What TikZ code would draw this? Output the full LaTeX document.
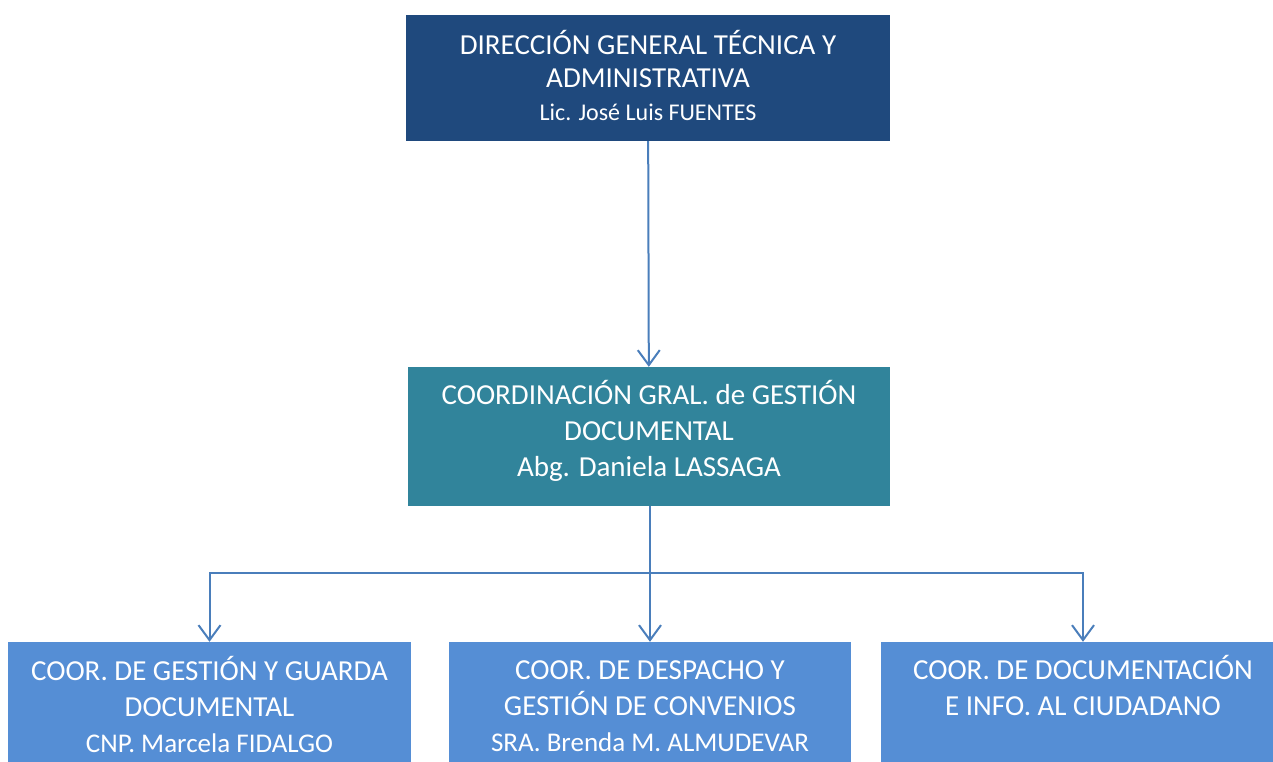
\documentclass[tikz,border=0pt]{standalone}
\usepackage{fontspec}
\setmainfont{Carlito}
\usetikzlibrary{arrows.meta}
\definecolor{topblue}{RGB}{31,73,125}
\definecolor{teal}{RGB}{49,132,155}
\definecolor{unitblue}{RGB}{85,142,213}
\definecolor{linkblue}{RGB}{74,126,187}
\begin{document}
\begin{tikzpicture}[x=1pt, y=-1pt,
    box/.style={rectangle, inner sep=0pt},
    boxtext/.style={inner sep=0pt, align=center, text=white, font=\fontsize{29}{36}\selectfont},
    link/.style={draw=linkblue, line width=2pt, -{Straight Barb[length=15pt, width=22pt]}}]
        \useasboundingbox (0,0) rectangle (1273,761);
        \clip (0,0) rectangle (1273,761);

        % boxes
        \node[box, fill=topblue, minimum width=484pt, minimum height=126pt] at (648, 78)     (dir)       {};
        \node[box, fill=teal, minimum width=482pt, minimum height=139pt]    at (649, 436.5)  (coord)     {};
        \node[box, fill=unitblue, minimum width=403pt, minimum height=128pt] at (209.5, 706) (guarda)    {};
        \node[box, fill=unitblue, minimum width=402pt, minimum height=128pt] at (650, 706)   (despacho)  {};
        \node[box, fill=unitblue, minimum width=404pt, minimum height=128pt] at (1083, 706)  (ciudadano) {};

        % texts
        \node[boxtext, font=\fontsize{29}{33}\selectfont, yshift=2.5pt] at (dir) (dirtext)
            {DIRECCIÓN GENERAL TÉCNICA Y\\ADMINISTRATIVA\\\fontsize{24}{33}\selectfont Lic. José Luis FUENTES};
        \node[boxtext, yshift=6pt] at (coord) (coordtext)
            {COORDINACIÓN GRAL. de GESTIÓN\\DOCUMENTAL\\Abg. Daniela LASSAGA};
        \node[boxtext, yshift=2pt] at (guarda) (guardatext)
            {COOR. DE GESTIÓN Y GUARDA\\DOCUMENTAL\\\fontsize{27}{36}\selectfont CNP. Marcela FIDALGO};
        \node[boxtext, yshift=-0.5pt] at (despacho) (despachotext)
            {COOR. DE DESPACHO Y\\GESTIÓN DE CONVENIOS\\\fontsize{27}{36}\selectfont SRA. Brenda M. ALMUDEVAR};
        \node[boxtext, yshift=21pt] at (ciudadano) (ciudadanotext)
            {COOR. DE DOCUMENTACIÓN\\E INFO. AL CIUDADANO};

        % bus line
        \coordinate (bus) at (650, 573);

        \draw[link]  (dir) -- (coord);
        \draw[link]  (coord.south -| bus) -- (bus) -| (guarda.north);
        \draw[link]  (coord.south -| bus) -- (despacho.north);
        \draw[link]  (bus) -| (ciudadano.north);

    \end{tikzpicture}
\end{document}
